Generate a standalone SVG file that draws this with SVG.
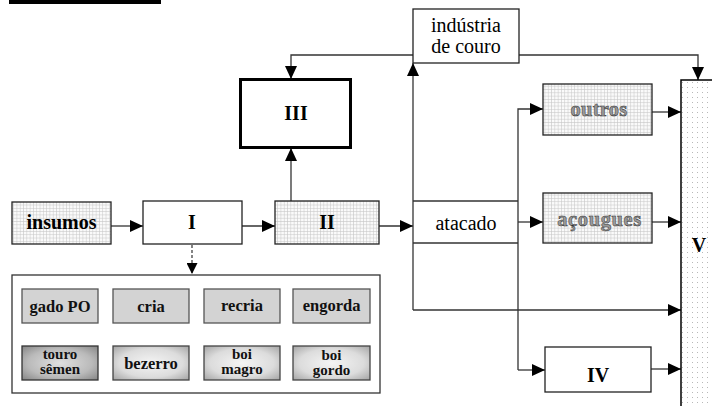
<svg xmlns="http://www.w3.org/2000/svg" width="712" height="406" viewBox="0 0 712 406" font-family="'Liberation Serif', 'Times New Roman', serif">
<style>
.box{fill:#fff;stroke:#222;stroke-width:1.3}
.grid{fill:url(#grid);stroke:#222;stroke-width:1.3}
.lbl{font-weight:bold;font-size:20px;text-anchor:middle;fill:#000}
.nrm{font-size:20px;text-anchor:middle;fill:#000}
.sm{font-weight:bold;font-size:16.5px;text-anchor:middle;fill:#111}
.sm2{font-weight:bold;font-size:15px;text-anchor:middle;fill:#111}
.ghost{font-weight:bold;font-size:20.5px;text-anchor:middle;fill:#9a9a9a;stroke:#333;stroke-width:0.5}
.r1{fill:#d3d3d3;stroke:#555;stroke-width:1.3}
.r2{fill:url(#rg);stroke:#444;stroke-width:1.3}
.r2d{fill:url(#rgd);stroke:#333;stroke-width:1.3}
.ln{fill:none;stroke:#333;stroke-width:1.3}
.la{fill:none;stroke:#333;stroke-width:1.3;marker-end:url(#ah)}
</style>
<defs>
<pattern id="grid" width="3.3" height="3.3" patternUnits="userSpaceOnUse">
<rect width="3.3" height="3.3" fill="#fafafa"/>
<path d="M0,0.3 H3.3 M0.3,0 V3.3" stroke="#c4c4c4" stroke-width="0.6"/>
</pattern>
<pattern id="dots" width="5" height="5" patternUnits="userSpaceOnUse">
<rect width="5" height="5" fill="#fff"/>
<rect x="2" y="2" width="1" height="1" fill="#b8b8b8"/>
</pattern>
<radialGradient id="rg" cx="50%" cy="50%" r="70%">
<stop offset="0" stop-color="#f4f4f4"/>
<stop offset="0.6" stop-color="#dcdcdc"/>
<stop offset="1" stop-color="#a4a4a4"/>
</radialGradient>
<radialGradient id="rgd" cx="50%" cy="50%" r="70%">
<stop offset="0" stop-color="#e0e0e0"/>
<stop offset="0.6" stop-color="#bababa"/>
<stop offset="1" stop-color="#858585"/>
</radialGradient>
<marker id="ah" viewBox="0 0 13 12" refX="13" refY="6" markerWidth="13" markerHeight="12" markerUnits="userSpaceOnUse" orient="auto">
<path d="M0,0 L13,6 L0,12 z" fill="#000"/>
</marker>
<marker id="ahs" viewBox="0 0 11 11" refX="11" refY="5.5" markerWidth="11" markerHeight="11" markerUnits="userSpaceOnUse" orient="auto">
<path d="M0,0 L11,5.5 L0,11 z" fill="#000"/>
</marker>
</defs>

<rect x="9" y="0" width="152" height="4" fill="#000"/>

<g id="connectors">
<line class="la" x1="111" y1="226" x2="143" y2="226"/>
<line class="la" x1="242" y1="226" x2="275" y2="226"/>
<line class="la" x1="379" y1="226" x2="413" y2="226"/>
<line class="la" x1="291" y1="201" x2="291" y2="148"/>
<polyline class="la" points="413,55 291,55 291,79"/>
<polyline class="la" points="519,55 698,55 698,80"/>
<line class="la" x1="413" y1="310" x2="413" y2="63"/>
<line class="la" x1="413" y1="310" x2="681" y2="310"/>
<polyline class="la" points="518,370 518,109 543,109"/>
<line class="la" x1="518" y1="222" x2="543" y2="222"/>
<line class="la" x1="518" y1="370" x2="545" y2="370"/>
<line class="la" x1="652" y1="112" x2="681" y2="112"/>
<line class="la" x1="652" y1="222" x2="681" y2="222"/>
<line class="la" x1="651" y1="369" x2="681" y2="369"/>
<line x1="192" y1="235" x2="192" y2="274" stroke="#333" stroke-width="1.2" stroke-dasharray="3,2" marker-end="url(#ahs)"/>
<polygon points="98,329 112,335 98,341" fill="#000"/>
<polygon points="190,329 203,335 190,341" fill="#000"/>
<polygon points="280,329 293,335 280,341" fill="#000"/>
</g>

<g id="insumos">
<rect class="grid" x="12" y="202" width="99" height="42"/>
<text class="lbl" x="61.5" y="229" font-family="Liberation Serif, serif">insumos</text>
</g>
<g id="I">
<rect class="box" x="143" y="201" width="99" height="43"/>
<text class="lbl" x="192" y="229" font-family="Liberation Serif, serif">I</text>
</g>
<g id="II">
<rect class="grid" x="275" y="201" width="104" height="43"/>
<text class="lbl" x="327" y="229" font-family="Liberation Serif, serif">II</text>
</g>
<g id="III">
<rect x="240.5" y="79.5" width="110" height="68" fill="#fff" stroke="#000" stroke-width="3"/>
<text class="lbl" x="296" y="120" font-family="Liberation Serif, serif">III</text>
</g>
<g id="industria">
<rect class="box" x="413" y="9" width="106" height="54"/>
<text class="nrm" x="466" y="32" font-family="Liberation Serif, serif">indústria</text>
<text class="nrm" x="466" y="53" font-family="Liberation Serif, serif">de couro</text>
</g>
<g id="atacado">
<line class="ln" x1="413" y1="201" x2="518" y2="201"/>
<line class="ln" x1="413" y1="243" x2="518" y2="243"/>
<text class="nrm" x="466" y="230" font-size="21" font-family="Liberation Serif, serif">atacado</text>
</g>
<g id="outros">
<rect class="grid" x="543" y="84" width="109" height="51"/>
<text class="ghost" x="599" y="116" letter-spacing="0.3" font-family="Liberation Serif, serif">outros</text>
</g>
<g id="acougues">
<rect class="grid" x="543" y="193" width="109" height="50"/>
<text class="ghost" x="599.5" y="226" letter-spacing="0.6" font-family="Liberation Serif, serif">açougues</text>
</g>
<g id="IV">
<rect class="box" x="545" y="347" width="106" height="45"/>
<text class="lbl" x="598" y="382" font-family="Liberation Serif, serif">IV</text>
</g>
<g id="V">
<rect x="681" y="80" width="40" height="340" fill="url(#dots)" stroke="#000" stroke-width="1.5"/>
<text class="lbl" x="699" y="252" font-size="22" font-family="Liberation Serif, serif">V</text>
</g>

<g id="ciclo" font-family="Liberation Serif, serif">
<rect x="12" y="275" width="368" height="118" fill="#fff" stroke="#333" stroke-width="1.3"/>
<g id="gadoPO"><rect class="r1" x="22" y="289" width="76" height="34"/><text class="sm" x="60" y="312">gado PO</text></g>
<g id="cria"><rect class="r1" x="113" y="289" width="76" height="34"/><text class="sm" x="151" y="312">cria</text></g>
<g id="recria"><rect class="r1" x="204" y="289" width="76" height="34"/><text class="sm" x="242" y="311">recria</text></g>
<g id="engorda"><rect class="r1" x="293" y="289" width="77" height="34"/><text class="sm" x="331.5" y="311">engorda</text></g>
<g id="touro"><rect class="r2d" x="22" y="346" width="76" height="34"/><text class="sm2" x="60" y="359">touro</text><text class="sm2" x="60" y="374">sêmen</text></g>
<g id="bezerro"><rect class="r2" x="113" y="346" width="76" height="34"/><text class="sm" x="151" y="369">bezerro</text></g>
<g id="boimagro"><rect class="r2" x="204" y="346" width="76" height="34"/><text class="sm2" x="242" y="359">boi</text><text class="sm2" x="242" y="374">magro</text></g>
<g id="boigordo"><rect class="r2" x="293" y="346" width="77" height="34"/><text class="sm2" x="331.5" y="360">boi</text><text class="sm2" x="331.5" y="375">gordo</text></g>
</g>
</svg>
